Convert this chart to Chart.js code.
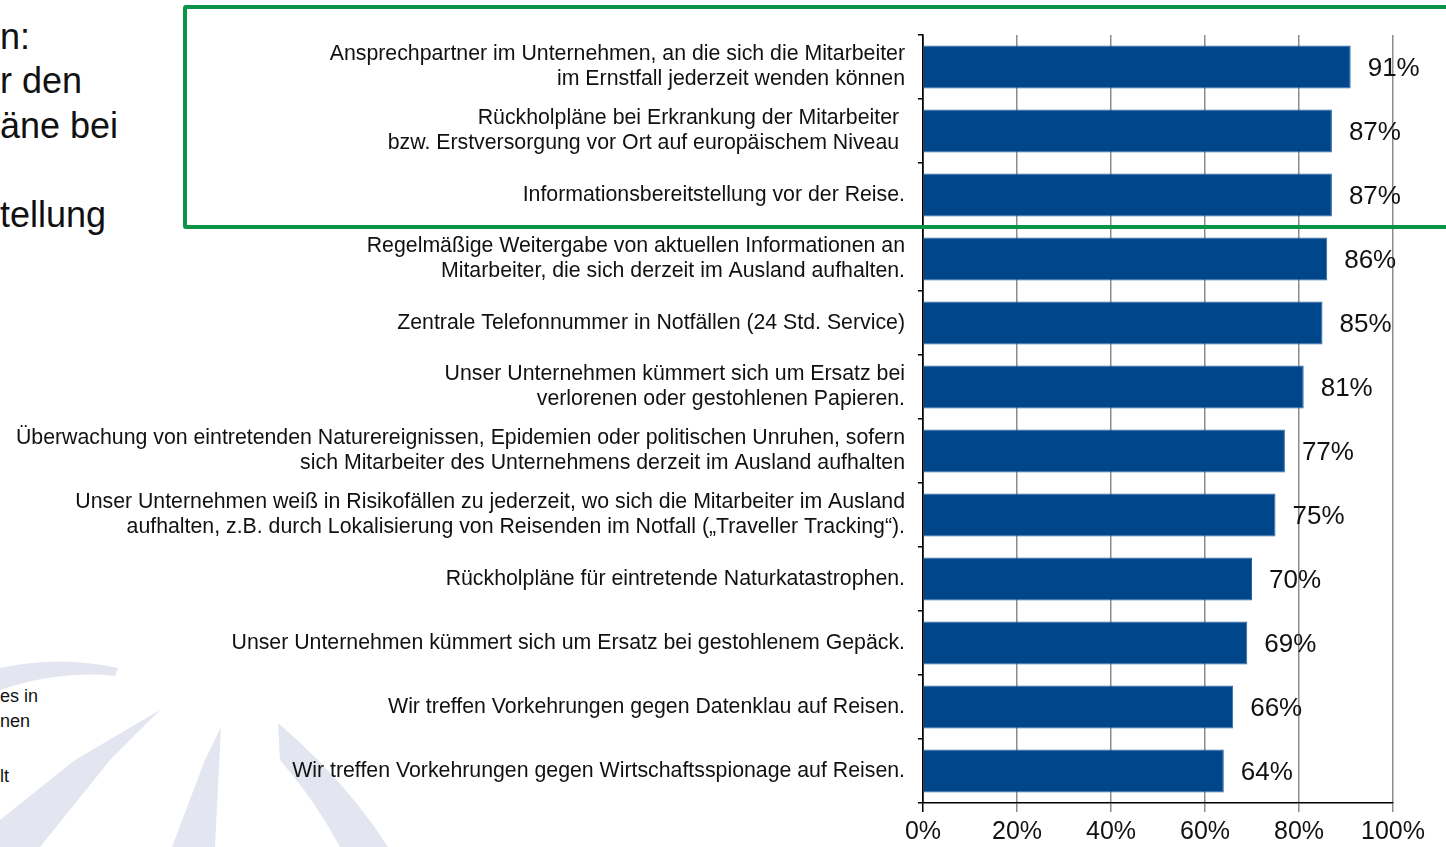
<!DOCTYPE html>
<html lang="de">
<head>
<meta charset="utf-8">
<script src="https://cdn.jsdelivr.net/npm/chart.js@4.4.1/dist/chart.umd.min.js"></script>
<style>
  html, body { margin: 0; padding: 0; background: #fff; overflow: hidden; }
  body { width: 1446px; height: 847px; position: relative; font-family: "Liberation Sans", Arial, sans-serif; color: #111; }
  #mark { position: absolute; left: 0; top: 0; }
  #wrap { position: absolute; left: 0; top: 0; width: 1446px; height: 847px; }
  .frag { position: absolute; left: 0; white-space: nowrap; }
  .big { font-size: 36px; }
  .small { font-size: 18px; }
  #box { position: absolute; left: 183px; top: 5px; width: 1290px; height: 216px; border: 4px solid #0b9447; border-radius: 3px; pointer-events: none; }
</style>
</head>
<body>
<svg id="mark" width="1446" height="847">
  <g fill="#e3e5f1">
    <path d="M0 668 Q60 655 118 668 L115 676 Q60 670 0 690 Z"/>
    <path d="M160 710 L110 760 L40 847 L0 847 L0 820 L75 760 Z"/>
    <path d="M221 727 L205 760 L172 847 L215 847 Z"/>
    <path d="M278 723 Q345 780 388 847 L340 847 Q315 800 280 760 Z"/>
  </g>
</svg>
<div class="frag big" style="top:16px">n:</div>
<div class="frag big" style="top:60px">r den</div>
<div class="frag big" style="top:105px">äne bei</div>
<div class="frag big" style="top:194px">tellung</div>
<div class="frag small" style="top:686px">es in</div>
<div class="frag small" style="top:711px">nen</div>
<div class="frag small" style="top:766px">lt</div>
<div id="wrap"><canvas id="chart" width="1446" height="847"></canvas></div>
<div id="box"></div>
<script>
const categories = [
  ["Ansprechpartner im Unternehmen, an die sich die Mitarbeiter", "im Ernstfall jederzeit wenden können"],
  ["Rückholpläne bei Erkrankung der Mitarbeiter ", "bzw. Erstversorgung vor Ort auf europäischem Niveau "],
  "Informationsbereitstellung vor der Reise.",
  ["Regelmäßige Weitergabe von aktuellen Informationen an", "Mitarbeiter, die sich derzeit im Ausland aufhalten."],
  "Zentrale Telefonnummer in Notfällen (24 Std. Service)",
  ["Unser Unternehmen kümmert sich um Ersatz bei", "verlorenen oder gestohlenen Papieren."],
  ["Überwachung von eintretenden Naturereignissen, Epidemien oder politischen Unruhen, sofern", "sich Mitarbeiter des Unternehmens derzeit im Ausland aufhalten"],
  ["Unser Unternehmen weiß in Risikofällen zu jederzeit, wo sich die Mitarbeiter im Ausland", "aufhalten, z.B. durch Lokalisierung von Reisenden im Notfall („Traveller Tracking“)."],
  "Rückholpläne für eintretende Naturkatastrophen.",
  "Unser Unternehmen kümmert sich um Ersatz bei gestohlenem Gepäck.",
  "Wir treffen Vorkehrungen gegen Datenklau auf Reisen.",
  "Wir treffen Vorkehrungen gegen Wirtschaftsspionage auf Reisen."
];
const values = [91, 87, 87, 86, 85, 81, 77, 75, 70, 69, 66, 64];
const xTicks = [0, 20, 40, 60, 80, 100];

const FONT = "'Liberation Sans', Arial, sans-serif";

// Prozentwerte rechts neben den Balken
const valueLabels = {
  id: "valueLabels",
  afterDatasetsDraw(chart) {
    const ctx = chart.ctx;
    const meta = chart.getDatasetMeta(0);
    ctx.save();
    ctx.font = "26px " + FONT;
    ctx.fillStyle = "#111";
    ctx.textAlign = "left";
    ctx.textBaseline = "middle";
    meta.data.forEach((bar, i) => {
      ctx.fillText(values[i] + "%", bar.x + 17, bar.y + 2);
    });
    ctx.restore();
  }
};

new Chart(document.getElementById("chart"), {
  type: "bar",
  data: {
    labels: categories,
    datasets: [{
      data: values,
      backgroundColor: "#00468b",
      borderColor: "#2d63a3",
      borderWidth: 1,
      barPercentage: 0.67,
      categoryPercentage: 1
    }]
  },
  options: {
    indexAxis: "y",
    responsive: false,
    animation: false,
    layout: { padding: { top: 35, right: 53, bottom: 0, left: 0 } },
    plugins: { legend: { display: false }, tooltip: { enabled: false } },
    scales: {
      x: {
        min: 0,
        max: 100,
        afterBuildTicks: s => { s.ticks = xTicks.map(v => ({ value: v })); },
        afterFit: s => { s.height = 44; },
        ticks: { callback: v => v + "%", color: "#111", font: { family: FONT, size: 25 }, padding: 5, maxRotation: 0 },
        grid: {
          color: c => c.index === 0 ? "#000" : "#8c8c8c",
          lineWidth: 1.5,
          tickLength: 9
        },
        border: { color: "#000", width: 1.5 }
      },
      y: {
        afterFit: s => { s.width = 923; },
        ticks: { color: "#111", font: { family: FONT, size: 21.3, lineHeight: 1.18 }, padding: 13 },
        grid: { drawOnChartArea: false, color: "#000", lineWidth: 1.5, tickLength: 5 },
        border: { color: "#000", width: 1.5 }
      }
    }
  },
  plugins: [valueLabels]
});
</script>
</body>
</html>
